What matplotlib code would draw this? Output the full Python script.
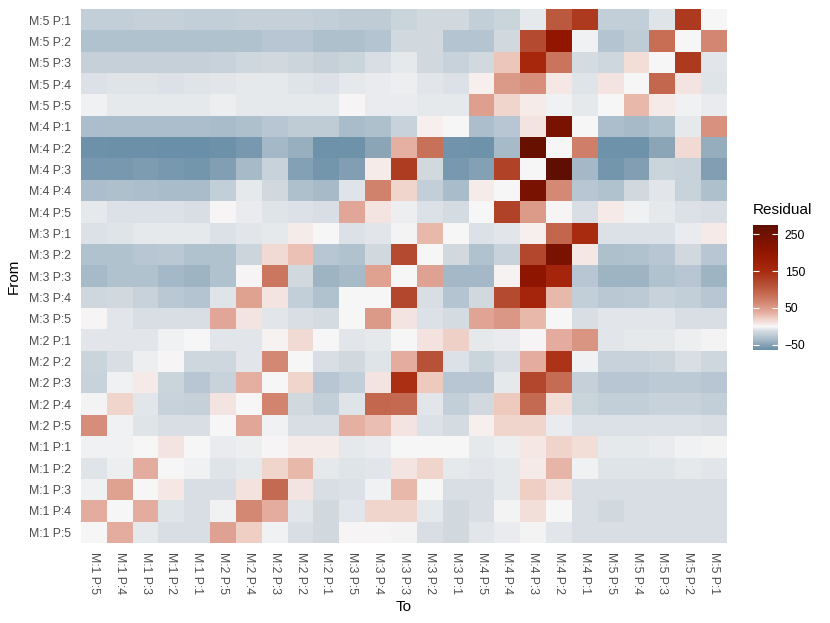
import numpy as np
import matplotlib
matplotlib.use("Agg")
import matplotlib.pyplot as plt
from matplotlib.colors import LinearSegmentedColormap, Normalize

plt.rcParams['font.family'] = ['Liberation Sans', 'DejaVu Sans']

# etiquetas de estados (filas de arriba abajo, columnas de izquierda a derecha)
from_labels = ["M:5 P:1", "M:5 P:2", "M:5 P:3", "M:5 P:4", "M:5 P:5",
               "M:4 P:1", "M:4 P:2", "M:4 P:3", "M:4 P:4", "M:4 P:5",
               "M:3 P:1", "M:3 P:2", "M:3 P:3", "M:3 P:4", "M:3 P:5",
               "M:2 P:1", "M:2 P:2", "M:2 P:3", "M:2 P:4", "M:2 P:5",
               "M:1 P:1", "M:1 P:2", "M:1 P:3", "M:1 P:4", "M:1 P:5"]
to_labels = from_labels[::-1]

# residuales por fila "From"
m5_p1 = [-22, -22, -21, -21, -22, -22, -21, -21, -21, -22, -23, -23, -18, -14, -14, -22, -18, -6, 105, 135, -22, -22, -9, 135, 0]
m5_p2 = [-30, -30, -30, -30, -30, -30, -30, -28, -28, -31, -31, -29, -15, -14, -29, -29, -14, 118, 200, -2, -29, -23, 85, 0, 65]
m5_p3 = [-21, -21, -21, -21, -21, -19, -16, -14, -17, -21, -18, -12, -6, -14, -20, -14, 25, 155, 80, -13, -16, 14, 0, 135, -8]
m5_p4 = [-10, -9, -9, -10, -9, -8, -7, -7, -9, -11, -6, -5, -4, -8, -10, 4, 52, 58, 8, -9, 9, 0, 90, 9, -9]
m5_p5 = [-3, -7, -7, -7, -7, -4, -7, -7, -6, -7, 2, -5, -5, -6, -6, 48, 18, 6, -2, -6, 0, 32, 7, -3, -5]
m4_p1 = [-33, -33, -33, -33, -33, -34, -32, -28, -24, -24, -34, -32, -19, 4, 0, -33, -28, 10, 235, 0, -33, -35, -30, -6, 57]
m4_p2 = [-61, -62, -62, -63, -64, -61, -55, -37, -42, -60, -59, -48, 36, 82, -58, -60, -36, 260, 0, 70, -60, -60, -47, 15, -43]
m4_p3 = [-56, -55, -53, -56, -57, -52, -36, -19, -50, -57, -52, 5, 132, -14, -55, -50, 128, 0, 275, -37, -57, -52, -18, -20, -52]
m4_p4 = [-33, -32, -33, -34, -34, -22, -6, -15, -32, -35, -9, 68, 17, -22, -34, 5, 0, 235, 62, -28, -30, -14, -8, -19, -31]
m4_p5 = [-6, -11, -11, -11, -12, 1, -5, -9, -11, -12, 42, 9, -4, -11, -13, 0, 128, 50, 1, -12, 7, -3, -7, -10, -12]
m3_p1 = [-10, -9, -7, -6, -7, -10, -8, -6, 6, 0, -10, -8, -1, 32, 0, -10, -8, 4, 92, 148, -11, -10, -10, -5, 7]
m3_p2 = [-30, -30, -27, -26, -30, -30, -17, 15, 28, -28, -30, -14, 118, 0, -15, -30, -19, 122, 235, 8, -31, -30, -27, -14, -27]
m3_p3 = [-35, -30, -30, -37, -39, -30, 1, 78, -15, -40, -35, 46, 0, 45, -37, -37, 3, 205, 160, -28, -39, -39, -30, -28, -39]
m3_p4 = [-16, -14, -20, -26, -29, -9, 47, 9, -22, -30, 0, 0, 122, -12, -29, -14, 118, 160, 32, -22, -26, -25, -20, -22, -27]
m3_p5 = [2, -8, -12, -12, -12, 43, 9, -8, -12, -13, 0, 52, 9, -10, -13, 44, 53, 32, 0, -12, -8, -8, -8, -12, -12]
m2_p1 = [-8, -8, -8, -3, 0, -8, -8, 3, 15, 0, -8, -6, 0, 11, 20, -6, -5, 1, 38, 54, -8, -6, -6, -4, -1]
m2_p2 = [-18, -12, -4, 2, -16, -16, -8, 64, 0, -12, -14, -9, 38, 112, -10, -18, -12, 38, 140, -2, -19, -19, -17, -12, -16]
m2_p3 = [-19, -3, 7, -18, -27, -19, 37, 0, 17, -27, -22, 10, 145, 24, -28, -27, -7, 122, 86, -21, -28, -28, -25, -25, -28]
m2_p4 = [-1, 17, -8, -19, -21, 9, 0, 66, -14, -22, -9, 90, 88, -8, -22, -14, 24, 88, 14, -18, -22, -22, -19, -19, -22]
m2_p5 = [60, -3, -9, -12, -12, 0, 42, -2, -12, -12, 36, 30, 9, -11, -13, 4, 18, 18, -5, -11, -11, -11, -11, -11, -12]
m1_p1 = [-3, -3, 0, 9, 0, -5, -4, 2, 5, 6, -6, -5, 0, 0, 0, -6, -4, 8, 19, 13, -6, -6, -5, -2, -1]
m1_p2 = [-9, -4, 39, 0, -2, -9, -6, 17, 32, -6, -9, -8, 10, 18, -6, -8, -6, 7, 33, -3, -9, -9, -9, -7, -8]
m1_p3 = [-3, 47, 0, 8, -12, -12, 11, 88, 9, -12, -10, -2, 32, 0, -12, -12, -7, 22, 11, -12, -12, -12, -12, -12, -12]
m1_p4 = [38, 0, 38, -9, -12, -2, 64, 38, -8, -14, -8, 17, 17, -6, -14, -12, -1, 12, 0, -12, -14, -12, -12, -12, -12]
m1_p5 = [0, 39, -6, -12, -12, 45, 22, -2, -12, -14, 1, 1, -1, -12, -14, -8, -5, -1, -8, -12, -12, -12, -12, -12, -12]

residuos = np.array([m5_p1, m5_p2, m5_p3, m5_p4, m5_p5,
                     m4_p1, m4_p2, m4_p3, m4_p4, m4_p5,
                     m3_p1, m3_p2, m3_p3, m3_p4, m3_p5,
                     m2_p1, m2_p2, m2_p3, m2_p4, m2_p5,
                     m1_p1, m1_p2, m1_p3, m1_p4, m1_p5], dtype=float)

# escala divergente: azul grisaceo -> blanco (0) -> rojo oscuro
vmin, vmax = -64, 275
nodos = [(-64, "#6A8FA8"), (-60, "#6E93AB"), (-50, "#86A2B5"), (-40, "#A0B5C4"),
         (-30, "#B3C4D0"), (-22, "#C4D0D9"), (-15, "#D1D9DF"), (-8, "#E3E7EB"),
         (0, "#F7F7F7"), (8, "#F5E7E4"), (17, "#F1D6CE"), (25, "#EEC7BC"),
         (35, "#E6B1A4"), (50, "#DD9C8A"), (65, "#D38671"), (90, "#C4684F"),
         (120, "#B34A30"), (150, "#A92A0E"), (200, "#931600"), (235, "#7A1300"),
         (275, "#5E0F00")]
cmap = LinearSegmentedColormap.from_list(
    "residual", [((v - vmin) / (vmax - vmin), c) for v, c in nodos])
norm = Normalize(vmin=vmin, vmax=vmax)

fig = plt.figure(figsize=(8.3, 6.23), dpi=100)
ax = fig.add_axes([0.0976, 0.1289, 0.7783, 0.8559])
im = ax.imshow(residuos, cmap=cmap, norm=norm, aspect="auto",
               interpolation="nearest")

ax.set_xticks(range(len(to_labels)))
ax.set_xticklabels(to_labels, rotation=270, fontsize=8.8, color="#4D4D4D")
ax.set_yticks(range(len(from_labels)))
ax.set_yticklabels(from_labels, fontsize=8.8, color="#4D4D4D")
ax.tick_params(length=0, pad=7)
for s in ax.spines.values():
    s.set_visible(False)
ax.set_xlabel("To", fontsize=11, labelpad=4)
ax.set_ylabel("From", fontsize=11, labelpad=6)

# leyenda de color
cax = fig.add_axes([0.9069, 0.4382, 0.0301, 0.2006])
cb = fig.colorbar(im, cax=cax, ticks=[-50, 50, 150, 250])
cb.outline.set_visible(False)
cax.tick_params(axis="y", left=True, right=True, direction="in",
                color="white", length=4.5, width=0.8, labelsize=8.8, pad=5)
fig.text(0.907, 1 - 210 / 623, "Residual", fontsize=11, ha="left", va="center")

fig.savefig("out.png", dpi=100)
